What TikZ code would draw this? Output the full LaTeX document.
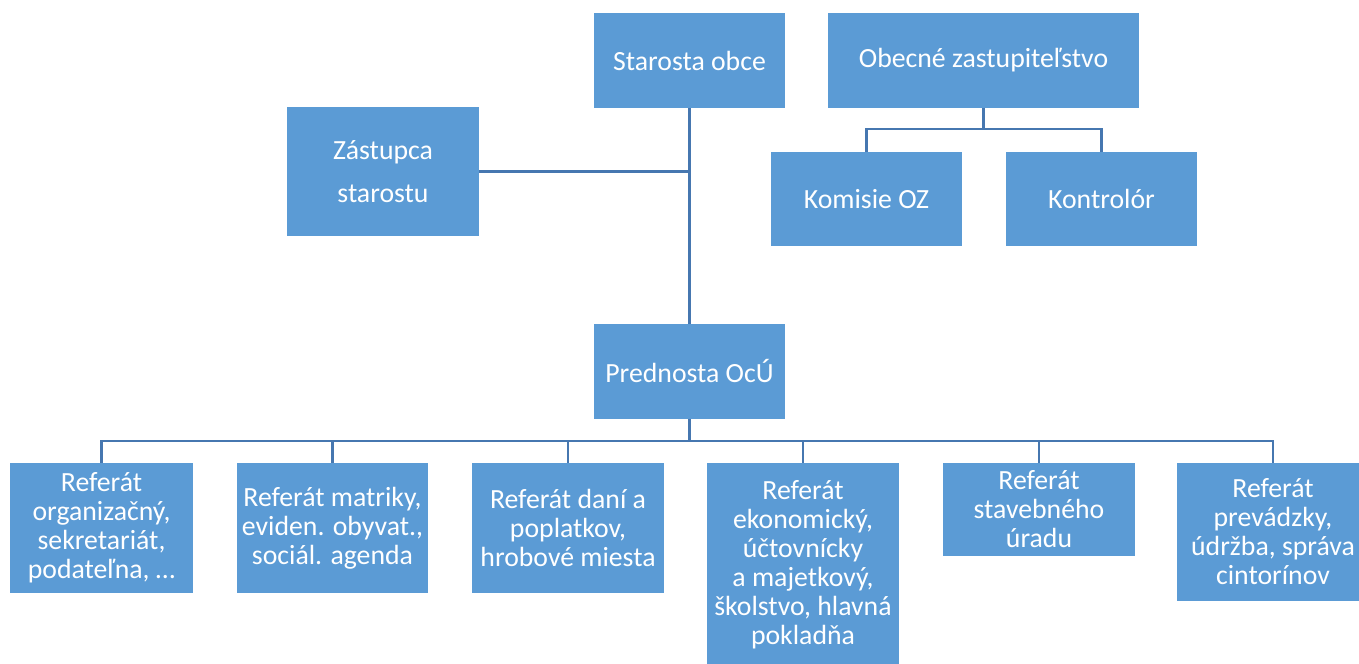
\documentclass[tikz,border=0pt]{standalone}
\usepackage{fontspec}
\setmainfont{Carlito}
\usepackage{xcolor}
\usepackage{tikz}
\usetikzlibrary{positioning,calc}

\definecolor{boxblue}{HTML}{5B9BD5}
\definecolor{linkblue}{HTML}{4677B0}

\tikzset{
    unit/.style={rectangle, fill=boxblue, draw=none, text=white, align=center,
        inner sep=0pt, outer sep=0pt, font=\fontsize{15.8}{16.5}\selectfont},
    link/.style={draw=linkblue, line width=1.2pt}
}

\begin{document}
\begin{tikzpicture}[x=0.02cm, y=-0.02cm]
    \useasboundingbox (0,0) rectangle (1359,663);

    % top part
    \node (starosta) [unit, minimum width=191*0.02cm, minimum height=95*0.02cm] at (689.5,60.5) {Starosta obce};
    \node (zastup) [unit, minimum width=311*0.02cm, minimum height=95*0.02cm] at (983.5,60.5) {Obecné zastupiteľstvo};
    \node (zastupca) [unit, minimum width=192*0.02cm, minimum height=129*0.02cm] at (383,171.5) {Zástupca\\[7.9pt]starostu};
    \node (komisie) [unit, minimum width=191*0.02cm, minimum height=94*0.02cm] at (866.5,199) {Komisie OZ};
    \node (kontrolor) [unit, minimum width=191*0.02cm, minimum height=94*0.02cm] at (1101.5,199) {Kontrolór};
    \node (prednosta) [unit, minimum width=191*0.02cm, minimum height=95*0.02cm] at (689.5,371.5) {Prednosta OcÚ};

    % referaty
    \node (ref1) [unit, minimum width=183*0.02cm, minimum height=130*0.02cm] at (101.5,528) {Referát\\organizačný,\\sekretariát,\\podateľna, \dots};
    \node (ref2) [unit, minimum width=191*0.02cm, minimum height=130*0.02cm] at (332.5,528) {Referát matriky,\\eviden. obyvat.,\\sociál. agenda};
    \node (ref3) [unit, minimum width=192*0.02cm, minimum height=130*0.02cm] at (568,528) {Referát daní a\\poplatkov,\\hrobové miesta};
    \node (ref4) [unit, minimum width=192*0.02cm, minimum height=204*0.02cm] at (803,565) {Referát\\ekonomický,\\účtovnícky\\a majetkový,\\školstvo, hlavná\\pokladňa};
    \node (ref5) [unit, minimum width=192*0.02cm, minimum height=93*0.02cm] at (1039,509.5) {Referát\\stavebného\\úradu};
    \node (ref6) [unit, minimum width=192*0.02cm, minimum height=138*0.02cm] at (1273,532) {Referát\\prevádzky,\\údržba, správa\\cintorínov};

    \coordinate (ozbus) at (983.5,129);
    \coordinate (refbus) at (689.5,441);

    \draw [link] (starosta.south) -- (prednosta.north);
    \draw [link] (zastupca.east) -- (zastupca.east -| starosta.south);
    \draw [link] (zastup.south) -- (ozbus) -| (komisie.north);
    \draw [link] (ozbus) -| (kontrolor.north);
    \draw [link] (prednosta.south) -- (refbus);
    \foreach \r in {ref1,ref2,ref3,ref4,ref5,ref6}
        \draw [link] (refbus) -| (\r.north);
\end{tikzpicture}
\end{document}
